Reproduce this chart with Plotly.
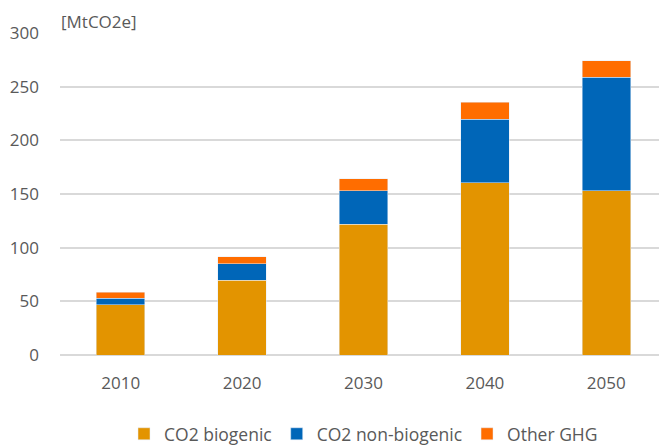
import plotly.graph_objects as go

years = ["2010", "2020", "2030", "2040", "2050"]
co2_biogenic = [47, 69.5, 122, 160.5, 153]
co2_non_biogenic = [6, 15.5, 31, 59, 106]
other_ghg = [5.5, 6.5, 11, 16, 15]
y_ticks = [0, 50, 100, 150, 200, 250, 300]

fig = go.Figure()
fig.add_trace(go.Bar(name="CO2 biogenic", x=years, y=co2_biogenic, marker_color="#E39400"))
fig.add_trace(go.Bar(name="CO2 non-biogenic", x=years, y=co2_non_biogenic, marker_color="#0066B8"))
fig.add_trace(go.Bar(name="Other GHG", x=years, y=other_ghg, marker_color="#FF6D00"))

font = dict(family="Open Sans, Noto Sans, sans-serif", size=17, color="#595959")
fig.update_layout(
    barmode="stack",
    bargap=0.6,
    width=659, height=437,
    margin=dict(l=52, r=0, t=25, b=90, autoexpand=False),
    plot_bgcolor="white", paper_bgcolor="white",
    font=font,
    showlegend=True,
    legend=dict(orientation="h", x=0.5, xanchor="center", y=-0.245, yanchor="middle",
                font=dict(size=17.5, color="#595959"), traceorder="normal", itemwidth=30),
    xaxis=dict(showgrid=False, showline=False, ticks="", tickfont=dict(size=17),
               ticklabelstandoff=16, automargin=False),
    yaxis=dict(range=[0, 300], tickvals=y_ticks, showgrid=True, gridcolor="#D9D9D9",
               gridwidth=1.5, zeroline=True, zerolinecolor="#D9D9D9", zerolinewidth=1.5,
               tickfont=dict(size=17), ticklabelstandoff=20, automargin=False),
    annotations=[dict(text="[MtCO2e]", xref="paper", yref="paper", x=0, y=1.035,
                      xanchor="left", yanchor="middle", showarrow=False, borderpad=0,
                      font=dict(size=17, color="#595959"))],
)
fig.write_html("out.html")
